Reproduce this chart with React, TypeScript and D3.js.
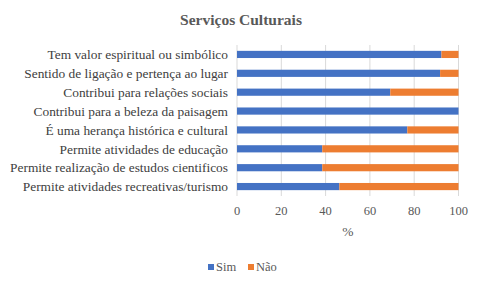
import React from "react";
import * as d3 from "d3";

const categories = [
  "Tem valor espiritual ou simbólico",
  "Sentido de ligação e pertença ao lugar",
  "Contribui para relações sociais",
  "Contribui para a beleza da paisagem",
  "É uma herança histórica e cultural",
  "Permite atividades de educação",
  "Permite realização de estudos cientificos",
  "Permite atividades recreativas/turismo",
];
const sim = [92.3, 91.7, 69.2, 100, 76.9, 38.5, 38.5, 46.2];
const nao = [7.7, 8.3, 30.8, 0, 23.1, 61.5, 61.5, 53.8];
const ticks = [0, 20, 40, 60, 80, 100];
const seriesNames = ["Sim", "Não"];
const colors = ["#4472C4", "#ED7D31"];

const font = "Liberation Serif";

export default function App() {
  const W = 483, H = 286;
  const x = d3.scaleLinear().domain([0, 100]).range([237, 458.5]);
  const y = d3.scaleBand().domain(categories).range([45, 196]).paddingInner(0.62).paddingOuter(0.31);
  const ts = (size: number, weight = "normal") => ({ fontFamily: font, fontSize: size, fontWeight: weight as any });
  return (
    <svg width={W} height={H} style={{ position: "absolute", left: 0, top: 0 }}>
      <rect width={W} height={H} fill="#fff" />
      <text x={241} y={25} textAnchor="middle" style={ts(15.5, "bold")} fill="#595959">
        Serviços Culturais
      </text>
      {ticks.map((t) => (
        <g key={t}>
          <line x1={x(t)} x2={x(t)} y1={45} y2={196} stroke="#d9d9d9" strokeWidth={1} />
          <text x={x(t)} y={215} textAnchor="middle" style={ts(12.5)} fill="#595959">
            {t}
          </text>
        </g>
      ))}
      {categories.map((c, i) => (
        <g key={c}>
          <rect x={x(0)} y={y(c)} width={x(sim[i]) - x(0)} height={y.bandwidth()} fill={colors[0]} />
          <rect x={x(sim[i])} y={y(c)} width={x(sim[i] + nao[i]) - x(sim[i])} height={y.bandwidth()} fill={colors[1]} />
          <text x={228} y={(y(c) as number) + y.bandwidth() / 2} dy="0.35em" textAnchor="end" style={ts(13.4)} fill="#404040">
            {c}
          </text>
        </g>
      ))}
      <text x={x(50)} y={236} textAnchor="middle" style={ts(13.5)} fill="#595959">%</text>
      {seriesNames.map((s, i) => {
        const lx = i === 0 ? 208 : 248;
        return (
          <g key={s}>
            <rect x={lx} y={264} width={6} height={6} fill={colors[i]} />
            <text x={lx + 8} y={271} style={ts(12.5)} fill="#595959">{s}</text>
          </g>
        );
      })}
    </svg>
  );
}
